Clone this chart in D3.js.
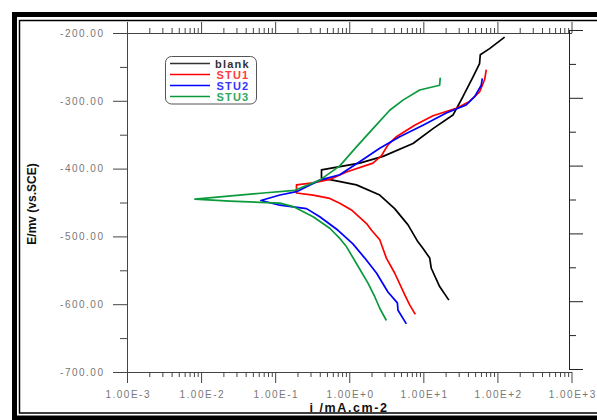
<!DOCTYPE html>
<html>
<head>
<meta charset="utf-8">
<script src="https://cdn.jsdelivr.net/npm/d3@7"></script>
<style>
body { margin: 0; background: #fff; }
svg { display: block; }
</style>
</head>
<body>
<div id="chart"></div>
<script>
// current density (mA/cm2), potential (mV vs SCE)
const blankData = [[22.1,-594],[16.6,-574],[12.8,-547],[12.2,-532],[9.8,-517],[8.46,-508],[6.21,-483],[4.10,-459],[2.58,-439],[1.25,-424],[0.671,-418],[0.422,-414],[0.422,-402],[1.38,-392],[2.86,-382],[7.25,-363],[13.5,-341],[25.1,-321],[34.2,-294],[46.7,-265],[57.4,-245],[58.7,-232],[78.4,-223],[125,-206]];
const stu1Data = [[7.80,-615],[6.54,-601],[5.60,-586],[4.10,-554],[3.17,-532],[2.58,-505],[2.0,-491],[1.71,-481],[1.07,-461],[0.745,-451],[0.546,-444],[0.325,-439],[0.194,-436],[0.194,-424],[0.325,-421],[0.546,-416],[0.916,-405],[2.09,-392],[2.72,-381],[3.33,-365],[4.33,-353],[7.64,-336],[13.5,-322],[27.9,-311],[42.1,-301],[57.4,-287],[67.1,-269],[70.8,-254]];
const stu2Data = [[5.90,-629],[4.55,-609],[4.46,-598],[3.33,-582],[2.33,-554],[1.62,-532],[1.12,-511],[0.706,-491],[0.400,-471],[0.265,-459],[0.116,-454],[0.0642,-447],[0.116,-439],[0.194,-434],[0.400,-417],[0.745,-409],[1.38,-390],[2.58,-370],[4.80,-353],[9.88,-336],[20.4,-318],[38.0,-306],[49.2,-294],[60.5,-277],[62.5,-267]];
const stu3Data = [[3.17,-624],[2.58,-606],[2.21,-589],[1.79,-569],[1.25,-540],[0.916,-515],[0.745,-503],[0.546,-488],[0.325,-471],[0.175,-456],[0.116,-451],[0.0245,-448],[0.00826,-445],[0.0689,-436],[0.184,-432],[0.400,-417],[0.745,-396],[1.25,-368],[2.09,-341],[3.52,-314],[5.31,-299],[8.92,-284],[16.6,-277],[16.9,-266]];

const seriesNames = ["blank", "STU1", "STU2", "STU3"];
const seriesData = [blankData, stu1Data, stu2Data, stu3Data];
const lineColors = ["#000000", "#ff0000", "#0000ff", "#0a9a3c"];
const labelColors = ["#333333", "#ff3b3b", "#3535ff", "#2fa860"];

const xMajor = [1e-3, 1e-2, 1e-1, 1e0, 1e1, 1e2, 1e3];
const yMajor = [-700, -600, -500, -400, -300, -200];
const yMinor = [-650, -550, -450, -350, -250];

let xMinor = [];
for (let k = -3; k < 3; k++) {
    for (let m = 2; m < 10; m++) xMinor.push(m * Math.pow(10, k));
}

const width = 597, height = 420;

let svg = d3.select("#chart")
    .append("svg")
    .attr("width", width)
    .attr("height", height)
    .style("background-color", "#fff");

// double frame
svg.append("rect")
    .attr("x", 14.5).attr("y", 14.5)
    .attr("width", 640).attr("height", 403.5)
    .attr("fill", "none").attr("stroke", "#000").attr("stroke-width", 5);
svg.append("rect")
    .attr("x", 19.5).attr("y", 20.5)
    .attr("width", 640).attr("height", 392.5)
    .attr("fill", "none").attr("stroke", "#000").attr("stroke-width", 1.5);

let x = d3.scaleLog().domain([1e-3, 1e3]).range([127, 571.5]);
let y = d3.scaleLinear().domain([-700, -200]).range([372, 33]);
let yRight = d3.scaleLinear().domain([-700, -200]).range([369, 30]);

function fmtE(d) {
    let e = Math.round(Math.log10(d));
    return "1.00E" + (e < 0 ? "-" : "+") + Math.abs(e);
}

function styleAxis(g, color) {
    g.selectAll("path,line").attr("stroke", color);
    g.selectAll("text")
        .attr("fill", "#777")
        .attr("font-family", "'Liberation Sans', Arial, sans-serif")
        .attr("font-size", 10)
        .attr("letter-spacing", "1.5px");
}

// bottom
let axisB = svg.append("g").attr("transform", "translate(0,372)");
axisB.call(d3.axisBottom(x).tickValues(xMajor).tickSize(11).tickSizeOuter(0).tickPadding(7.5).tickFormat(fmtE));
axisB.append("g").call(d3.axisBottom(x).tickValues(xMinor).tickSize(5).tickSizeOuter(0).tickFormat(""));
axisB.selectAll("text").attr("dx", "0.7px");
styleAxis(axisB, "#444");

// top
let axisT = svg.append("g").attr("transform", "translate(0,33)");
axisT.call(d3.axisTop(x).tickValues(xMajor).tickSize(11).tickSizeOuter(0).tickFormat(""));
axisT.append("g").call(d3.axisTop(x).tickValues(xMinor).tickSize(5).tickSizeOuter(0).tickFormat(""));
styleAxis(axisT, "#444");

// left
let axisL = svg.append("g").attr("transform", "translate(127,0)");
axisL.call(d3.axisLeft(y).tickValues(yMajor).tickSize(14).tickSizeOuter(0).tickPadding(8.5).tickFormat(d => d.toFixed(2)));
axisL.append("g").call(d3.axisLeft(y).tickValues(yMinor).tickSize(7).tickSizeOuter(0).tickFormat(""));
styleAxis(axisL, "#444");
axisL.append("line")
    .attr("x1", 0.5).attr("x2", 0.5).attr("y1", 22).attr("y2", 375)
    .attr("stroke", "#444");

// right
let axisR = svg.append("g").attr("transform", "translate(569,0)");
axisR.call(d3.axisRight(yRight).tickValues(yMajor).tickSize(14).tickSizeOuter(0).tickFormat(""));
axisR.append("g").call(d3.axisRight(yRight).tickValues(yMinor).tickSize(7).tickSizeOuter(0).tickFormat(""));
styleAxis(axisR, "#222");

// axis titles
svg.append("text")
    .attr("x", 349).attr("y", 412)
    .attr("text-anchor", "middle")
    .attr("font-family", "'Liberation Sans', Arial, sans-serif")
    .attr("font-weight", "bold")
    .attr("font-size", 12.5)
    .attr("letter-spacing", "1.6px")
    .attr("fill", "#111")
    .text("i /mA.cm-2");

svg.append("text")
    .attr("transform", "translate(36,204) rotate(-90)")
    .attr("text-anchor", "middle")
    .attr("font-family", "'Liberation Sans', Arial, sans-serif")
    .attr("font-weight", "bold")
    .attr("font-size", 12)
    .attr("fill", "#111")
    .text("E/mv (vs.SCE)");

// curves
let line = d3.line()
    .x(d => x(d[0]))
    .y(d => y(d[1]));

for (let i = 0; i < seriesData.length; i++) {
    svg.append("path")
        .datum(seriesData[i])
        .attr("fill", "none")
        .attr("stroke", lineColors[i])
        .attr("stroke-width", 1.7)
        .attr("stroke-linejoin", "round")
        .attr("d", line);
}

// legend
let legend = svg.append("g");
legend.append("rect")
    .attr("x", 165.5).attr("y", 56.5)
    .attr("width", 91).attr("height", 47.5)
    .attr("rx", 6)
    .attr("fill", "#fff")
    .attr("stroke", "#555");

for (let i = 0; i < seriesNames.length; i++) {
    let ly = 63.5 + i * 11;
    legend.append("line")
        .attr("x1", 170).attr("x2", 210)
        .attr("y1", ly).attr("y2", ly)
        .attr("stroke", lineColors[i] === "#000000" ? "#333" : lineColors[i])
        .attr("stroke-width", 1.7);
    legend.append("text")
        .attr("x", i === 0 ? 215 : 216.5)
        .attr("y", ly + 4)
        .attr("font-family", "'Liberation Sans', Arial, sans-serif")
        .attr("font-weight", "bold")
        .attr("font-size", 11)
        .attr("letter-spacing", "1.2px")
        .attr("fill", labelColors[i])
        .text(seriesNames[i]);
}
</script>
</body>
</html>
